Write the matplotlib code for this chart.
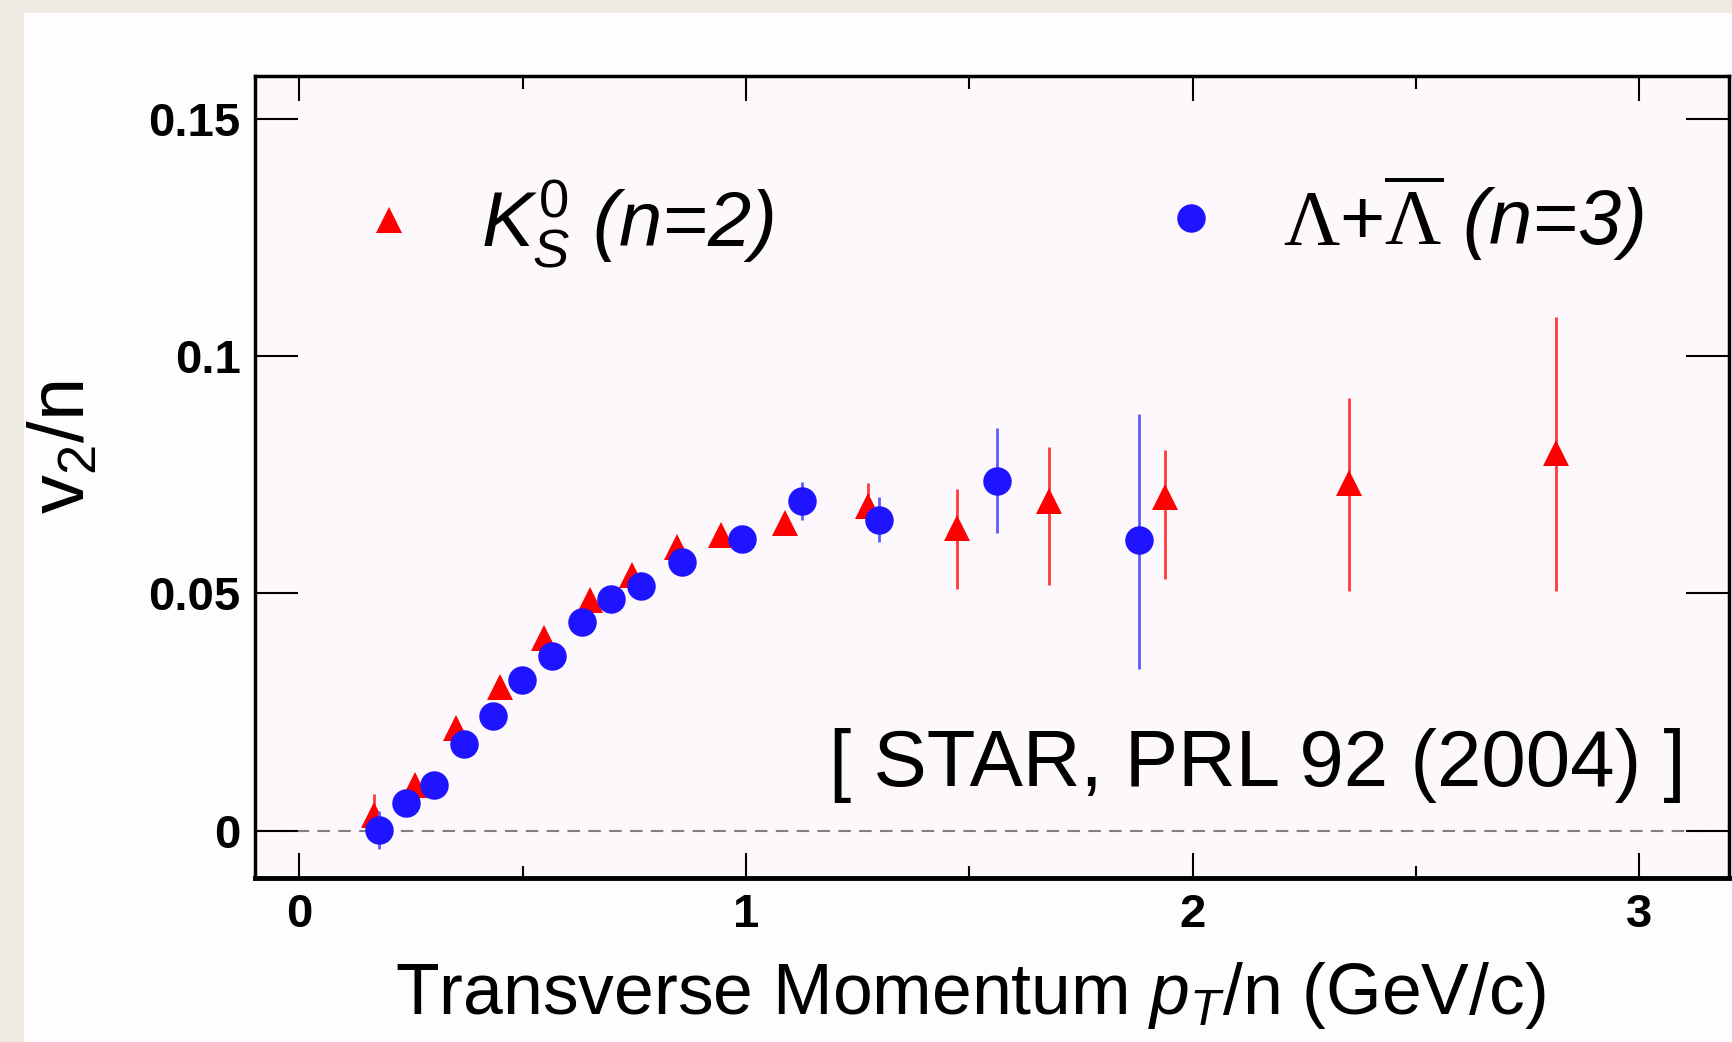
import matplotlib
matplotlib.use('Agg')
import matplotlib.pyplot as plt
from matplotlib.lines import Line2D
from matplotlib.patches import Rectangle

plt.rcParams['font.family'] = 'Liberation Sans'
plt.rcParams['mathtext.fontset'] = 'custom'
plt.rcParams['mathtext.rm'] = 'Liberation Sans'
plt.rcParams['mathtext.it'] = 'Liberation Sans:italic'
plt.rcParams['mathtext.sf'] = 'Liberation Sans'
plt.rcParams['mathtext.cal'] = 'Liberation Serif'

# K0s (n=2), values
k_x = [0.167, 0.260, 0.352, 0.450, 0.547, 0.650, 0.744, 0.845, 0.944, 1.087, 1.274,
       1.473, 1.679, 1.938, 2.350, 2.814]
k_y = [0.0033, 0.0096, 0.0216, 0.0303, 0.0405, 0.0486, 0.0539, 0.0598, 0.0623, 0.0648, 0.0683,
       0.0637, 0.0695, 0.0702, 0.0732, 0.0795]
k_err_lo = [0.0035, 0.002, 0.002, 0.002, 0.002, 0.002, 0.002, 0.002, 0.0015, 0.002, 0.004,
            0.0128, 0.0177, 0.0172, 0.0228, 0.0291]
k_err_hi = [0.0045, 0.002, 0.002, 0.002, 0.002, 0.002, 0.002, 0.002, 0.0015, 0.002, 0.005,
            0.0082, 0.0114, 0.0099, 0.0180, 0.0287]

# Lambda + anti-Lambda (n=3)
l_x = [0.179, 0.239, 0.302, 0.369, 0.434, 0.499, 0.565, 0.634, 0.699, 0.765, 0.857,
       0.992, 1.125, 1.299, 1.563, 1.881]
l_y = [0.0001, 0.0059, 0.0095, 0.0182, 0.0242, 0.0318, 0.0368, 0.0440, 0.0488, 0.0516, 0.0566,
       0.0614, 0.0695, 0.0655, 0.0737, 0.0613]
l_err_lo = [0.004, 0.002, 0.002, 0.002, 0.002, 0.002, 0.002, 0.002, 0.002, 0.002, 0.002,
            0.002, 0.004, 0.0047, 0.0110, 0.0273]
l_err_hi = [0.004, 0.002, 0.002, 0.002, 0.002, 0.002, 0.002, 0.002, 0.002, 0.002, 0.002,
            0.002, 0.004, 0.0047, 0.0111, 0.0265]

x_ticks = [0, 1, 2, 3]
x_ticklabels = ['0', '1', '2', '3']
y_ticks = [0, 0.05, 0.1, 0.15]
y_ticklabels = ['0', '0.05', '0.1', '0.15']

red = '#ff0000'
blue = '#1e14ff'

fig = plt.figure(figsize=(17.32, 10.42), dpi=100, facecolor='#ede9e3')
fig.patches.append(Rectangle((24 / 1732, 0), 1 - 24 / 1732, 1 - 13 / 1042,
                             transform=fig.transFigure, facecolor='#fefcfe',
                             edgecolor='none', zorder=-5))
ax = fig.add_axes([254.5 / 1732, 164 / 1042, 1474.2 / 1732, 802 / 1042])
ax.set_facecolor('#fdf8fc')

ax.axhline(0, color='#808080', lw=1.5, ls=(0, (6, 4)), zorder=1)

ax.errorbar(k_x, k_y, yerr=[k_err_lo, k_err_hi], fmt='^', ms=19, mew=0, color=red,
            ecolor='#ff3a3a', elinewidth=2, capsize=0, zorder=3)
ax.errorbar(l_x, l_y, yerr=[l_err_lo, l_err_hi], fmt='o', ms=20.5, mew=0, color=blue,
            ecolor='#5c5cff', elinewidth=2, capsize=0, zorder=4)

ax.set_xlim(-0.1, 3.2)
ax.set_ylim(-0.01, 0.159)
ax.set_xticks(x_ticks)
ax.set_xticklabels(x_ticklabels)
ax.set_xticks([0.5, 1.5, 2.5], minor=True)
ax.set_yticks(y_ticks)
ax.set_yticklabels(y_ticklabels)
ax.tick_params(axis='x', which='major', direction='in', length=18, width=1.5,
               top=True, pad=11, labelsize=34)
ax.tick_params(axis='x', which='minor', direction='in', length=9, width=1.5, top=True)
ax.tick_params(axis='y', which='major', direction='in', length=31, width=1.5,
               right=True, pad=10, labelsize=34)
ax.tick_params(axis='y', which='minor', left=False, right=False)
for lbl in ax.get_xticklabels() + ax.get_yticklabels():
    lbl.set_fontweight('bold')
for s in ax.spines.values():
    s.set_linewidth(2.5)
ax.spines['bottom'].set_linewidth(3.5)

# legend, two separate entries like the original
h_k = Line2D([], [], ls='none', marker='^', ms=19, mew=0, color=red)
h_l = Line2D([], [], ls='none', marker='o', ms=20.5, mew=0, color=blue)
leg_kw = dict(loc='center left', frameon=False, borderpad=0, borderaxespad=0,
              handlelength=0.6, handletextpad=0.88, prop={'size': 56, 'style': 'italic'})
leg1 = ax.legend([h_k], [r'$K^{0}_{S}$ (n=2)'], bbox_to_anchor=(0.0753, 0.815), **leg_kw)
ax.add_artist(leg1)
ax.legend([h_l], [r'$\mathcal{\Lambda}{+}\overline{\mathcal{\Lambda}}$ (n=3)'],
          bbox_to_anchor=(0.6193, 0.823), **leg_kw)

ax.text(3.104, 0.0093, '[ STAR, PRL 92 (2004) ]', ha='right', va='baseline', fontsize=57.5)

fig.text(970 / 1732, 1 - 1014 / 1042, r'Transverse Momentum $p_{T}$/n (GeV/c)',
         ha='center', va='baseline', fontsize=51.5)
fig.text(64 / 1732, 1 - 447 / 1042, r'$\mathsf{v}_{2}$/n', rotation=90,
         ha='center', va='center', fontsize=56)

fig.savefig('out.png', dpi=100, facecolor=fig.get_facecolor())
